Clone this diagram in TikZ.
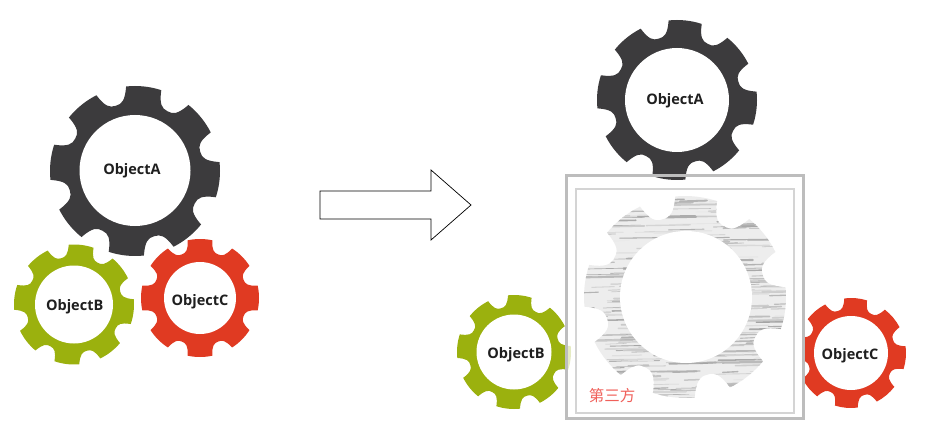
\documentclass[tikz,border=0pt]{standalone}
\usepackage{fontspec}
\setmainfont{Open Sans}
\newfontfamily\cjk{Noto Sans CJK SC}
\usetikzlibrary{positioning}
\definecolor{gearA}{HTML}{3C3B3D}
\definecolor{gearB}{HTML}{9BB10E}
\definecolor{gearC}{HTML}{E03A22}
\definecolor{boxline}{HTML}{BDBDBD}
\definecolor{boxinner}{HTML}{D4D4D4}
\definecolor{thirdred}{HTML}{F0605A}
\tikzset{hole/.style={circle,fill=white,inner sep=0pt},
  objlabel/.style={inner sep=0pt,text=black!88,font=\bfseries\fontsize{14.5}{14.5}\selectfont}}
% #1 path options, #2 centre, #3 outer radius, #4 angle of first tooth
\newcommand{\gearshape}[4]{
\path[#1,shift={(#2)}] (#4-12:#3)
  \foreach \k [evaluate=\k as \t using #4+45*\k] in {0,...,7} {
    arc[start angle=\t-12,end angle=\t+12,radius=#3]
    .. controls (\t+14:0.84*#3) and (\t+17:0.80*#3) .. (\t+22.5:0.80*#3)
    .. controls (\t+28:0.80*#3) and (\t+31:0.84*#3) .. (\t+33:#3)
  } -- cycle;
}
\begin{document}
\begin{tikzpicture}[x=1pt,y=1pt]
\useasboundingbox (0,0) rectangle (927,440);

% before
\gearshape{fill=gearA}{135,269}{85}{84}
\gearshape{fill=gearB}{74,135.5}{60}{83}
\gearshape{fill=gearC}{200,142}{59}{90}
\node[hole,minimum size=111pt] (holeA) at (135,269.5) {};
\node[hole,minimum size=78pt] (holeB) at (74,135.5) {};
\node[hole,minimum size=72pt] (holeC) at (200,142) {};
\node[objlabel] (objA) at (132,269) {ObjectA};
\node[objlabel] (objB) at (74.7,133) {ObjectB};
\node[objlabel] (objC) at (200,138.5) {ObjectC};

\draw[black,line width=0.7pt] (320,249) -- (431,249) -- (431,270) -- (471,235)
  -- (431,200) -- (431,221) -- (320,221) -- cycle;

% after
\gearshape{fill=gearC}{851,87}{55}{85}
\gearshape{fill=gearB}{514,88}{57}{84}
\fill[white,opacity=0.75] (566,22) rectangle (803,264);
\fill[white] (791,22) rectangle (803,264);
\gearshape{fill=gearA}{677,340}{80}{84}
\draw[boxline,line width=3pt] (566,22) rectangle (803,264);
\draw[boxinner,line width=2pt] (576,27) rectangle (794,251);

\begin{scope}
\gearshape{clip}{685,143}{101}{83.5}
\fill[black!7] (580,30) rectangle (790,250);
\pgfmathsetseed{11}
\foreach \i in {1,...,320} {
  \pgfmathsetmacro{\sy}{40+200*rnd}
  \pgfmathsetmacro{\sx}{575+200*rnd}
  \pgfmathsetmacro{\sw}{15+55*rnd}
  \pgfmathsetmacro{\sg}{8+28*rnd}
  \pgfmathsetmacro{\st}{0.5+1.6*rnd}
  \draw[black!\sg,line width=\st pt,line cap=round] (\sx,\sy) -- (\sx+\sw,\sy+0.8);
};
\end{scope}
\node[hole,minimum size=132pt] (holeThird) at (686,143) {};

\node[hole,minimum size=104pt] (holeA2) at (677,340) {};
\node[hole,minimum size=75pt] (holeB2) at (514,88) {};
\node[hole,minimum size=74pt] (holeC2) at (851,87) {};
\node[objlabel] (objA2) at (675,339) {ObjectA};
\node[objlabel] (objB2) at (516,85) {ObjectB};
\node[objlabel] (objC2) at (850,84) {ObjectC};
\node[text=thirdred,inner sep=0pt,font=\cjk\fontsize{15.5}{15.5}\selectfont] (thirdlabel) at (612,44.5) {第三方};
\end{tikzpicture}
\end{document}
